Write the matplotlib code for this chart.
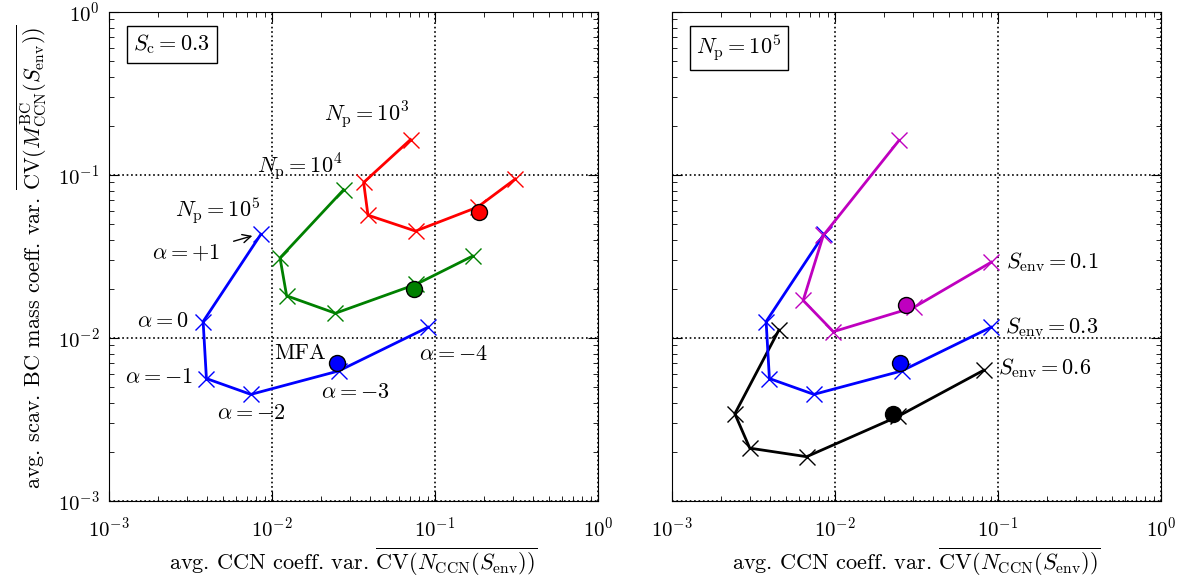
import numpy as np
import matplotlib
matplotlib.use("Agg")
import matplotlib.pyplot as plt

plt.rcParams['font.family'] = 'serif'
plt.rcParams['font.serif'] = ['cmr10', 'DejaVu Serif']
plt.rcParams['mathtext.fontset'] = 'cm'
plt.rcParams['axes.formatter.use_mathtext'] = True
plt.rcParams['axes.unicode_minus'] = True
plt.rcParams['font.size'] = 15

# values, ordered alpha = +1, 0, -1, -2, -3, -4
alphas = ["+1", "0", "-1", "-2", "-3", "-4"]

# left panel: S_c = 0.3, varying N_p
np5_x = [0.00855, 0.00378, 0.00396, 0.00742, 0.02565, 0.0906]
np5_y = [0.0433, 0.01262, 0.00564, 0.00451, 0.00628, 0.01164]
np5_mfa = (0.0250, 0.00698)

np4_x = [0.0275, 0.0112, 0.0123, 0.0245, 0.0770, 0.170]
np4_y = [0.0812, 0.0310, 0.01815, 0.01419, 0.0214, 0.0318]
np4_mfa = (0.0743, 0.02007)

np3_x = [0.0708, 0.0365, 0.0388, 0.0760, 0.1824, 0.311]
np3_y = [0.165, 0.0900, 0.0567, 0.0453, 0.0635, 0.0945]
np3_mfa = (0.185, 0.0597)

# right panel: N_p = 1e5, varying S_env
s01_x = [0.0247, 0.00848, 0.00638, 0.00977, 0.0306, 0.0910]
s01_y = [0.163, 0.0426, 0.0170, 0.01094, 0.01545, 0.0292]
s01_mfa = (0.0272, 0.0160)

s03_x = np5_x
s03_y = np5_y
s03_mfa = np5_mfa

s06_x = [0.00453, 0.00243, 0.0030, 0.0067, 0.0243, 0.0817]
s06_y = [0.0112, 0.00343, 0.00211, 0.00187, 0.0033, 0.00634]
s06_mfa = (0.0227, 0.0034)

LABEL_SIZE = 16


def setup_axes(ax):
    ax.set_xscale('log')
    ax.set_yscale('log')
    ax.set_xlim(1e-3, 1)
    ax.set_ylim(1e-3, 1)
    ax.tick_params(which='both', direction='in', top=True, right=True)
    ax.tick_params(which='major', length=7)
    ax.tick_params(which='minor', length=3.5)
    ax.tick_params(axis='x', pad=11)
    ax.tick_params(axis='y', pad=7)
    ax.grid(True, which='major', linestyle=':', color='black', linewidth=1.2)


def draw_series(ax, xs, ys, mfa, color):
    ax.plot(xs, ys, color=color, linewidth=2, marker='x', markersize=11,
            markeredgewidth=1, zorder=3)
    ax.plot([mfa[0]], [mfa[1]], 'o', color=color, markeredgecolor='black',
            markersize=11.5, zorder=4)


fig = plt.figure(figsize=(11.86, 5.77), dpi=100)
ax1 = fig.add_axes([0.0919, 0.1317, 0.4123, 0.8475])
ax2 = fig.add_axes([0.5666, 0.1317, 0.4123, 0.8475])

xlabel = r"avg. CCN coeff. var. $\overline{\mathrm{CV}(N_\mathrm{CCN}(S_\mathrm{env}))}$"
ylabel = r"avg. scav. BC mass coeff. var. $\overline{\mathrm{CV}(M^\mathrm{BC}_\mathrm{CCN}(S_\mathrm{env}))}$"

box = dict(boxstyle='square,pad=0.3', fc='white', ec='black')

# left panel
setup_axes(ax1)
draw_series(ax1, np5_x, np5_y, np5_mfa, 'blue')
draw_series(ax1, np4_x, np4_y, np4_mfa, 'green')
draw_series(ax1, np3_x, np3_y, np3_mfa, 'red')
ax1.set_xlabel(xlabel, labelpad=4, fontsize=LABEL_SIZE)
ax1.set_ylabel(ylabel, labelpad=6, fontsize=LABEL_SIZE)
ax1.text(0.05, 0.958, r"$S_\mathrm{c} = 0.3$", transform=ax1.transAxes,
         va='top', ha='left', bbox=box, fontsize=LABEL_SIZE)

ax1.text(0.0209, 0.236, r"$N_\mathrm{p} = 10^3$", ha='left', va='center', fontsize=LABEL_SIZE)
ax1.text(0.00809, 0.112, r"$N_\mathrm{p} = 10^4$", ha='left', va='center', fontsize=LABEL_SIZE)
ax1.text(0.00254, 0.0601, r"$N_\mathrm{p} = 10^5$", ha='left', va='center', fontsize=LABEL_SIZE)
ax1.annotate("", xy=(0.00787, 0.0428), xytext=(0.0056, 0.0388),
             arrowprops=dict(arrowstyle='->', color='black', lw=1))

alpha_pos = [(0.00184, 0.0332), (0.00149, 0.0127), (0.00125, 0.00577),
             (0.0046, 0.00347), (0.0200, 0.00467), (0.0798, 0.00798)]
for a, (tx, ty) in zip(alphas, alpha_pos):
    ax1.text(tx, ty, r"$\alpha = %s$" % a, ha='left', va='center', fontsize=LABEL_SIZE)
ax1.text(0.01029, 0.00805, "MFA", ha='left', va='center', fontsize=LABEL_SIZE)

# right panel
setup_axes(ax2)
draw_series(ax2, s06_x, s06_y, s06_mfa, 'black')
draw_series(ax2, s03_x, s03_y, s03_mfa, 'blue')
draw_series(ax2, s01_x, s01_y, s01_mfa, 'm')
ax2.set_xlabel(xlabel, labelpad=4, fontsize=LABEL_SIZE)
ax2.set_yticklabels([])
ax2.set_yticklabels([], minor=True)
ax2.text(0.05, 0.958, r"$N_\mathrm{p} = 10^5$", transform=ax2.transAxes,
         va='top', ha='left', bbox=box, fontsize=LABEL_SIZE)
ax2.text(0.112, 0.0292, r"$S_\mathrm{env} = 0.1$", ha='left', va='center', fontsize=LABEL_SIZE)
ax2.text(0.111, 0.01167, r"$S_\mathrm{env} = 0.3$", ha='left', va='center', fontsize=LABEL_SIZE)
ax2.text(0.100, 0.00655, r"$S_\mathrm{env} = 0.6$", ha='left', va='center', fontsize=LABEL_SIZE)

fig.savefig("out.png", dpi=100)
